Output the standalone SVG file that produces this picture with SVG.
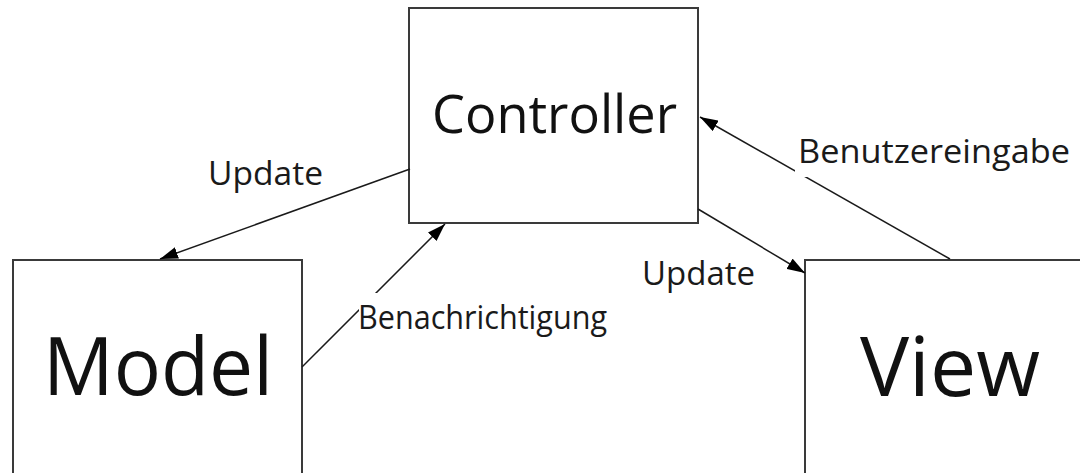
<svg xmlns="http://www.w3.org/2000/svg" width="1080" height="473" viewBox="0 0 1080 473">
  <style>
    .box { fill: #ffffff; stroke: #3a3a3a; stroke-width: 2; }
    .conn { stroke: #1a1a1a; stroke-width: 1.5; fill: none; marker-end: url(#arrow); }
    .big { font-family: "Open Sans", "Noto Sans", sans-serif; fill: #111111; }
    .lbl { font-family: "Open Sans", "Noto Sans", sans-serif; fill: #1a1a1a; font-size: 33px; }
  </style>
  <defs>
    <marker id="arrow" viewBox="0 0 18 12" markerWidth="18" markerHeight="12" refX="18" refY="6" orient="auto" markerUnits="userSpaceOnUse">
      <path d="M0,0 L18,6 L0,12 Z" fill="#000000"/>
    </marker>
  </defs>
  <rect width="1080" height="473" fill="#ffffff"/>

  <g id="controller">
    <rect class="box" x="409" y="8" width="289" height="215"/>
    <text class="big" x="432" y="133" font-size="53" textLength="245" lengthAdjust="spacingAndGlyphs">Controller</text>
  </g>
  <g id="model">
    <rect class="box" x="13" y="260" width="289" height="240"/>
    <text class="big" x="43" y="395" font-size="80" textLength="230" lengthAdjust="spacingAndGlyphs">Model</text>
  </g>
  <g id="view">
    <rect class="box" x="805" y="260" width="300" height="240"/>
    <text class="big" x="860" y="396" font-size="82" textLength="180" lengthAdjust="spacingAndGlyphs">View</text>
  </g>

  <g id="connectors">
    <line class="conn" x1="410" y1="169" x2="160" y2="259"/>
    <line class="conn" x1="302" y1="367" x2="445" y2="224"/>
    <line class="conn" x1="698" y1="209" x2="805" y2="273"/>
    <line class="conn" x1="950" y1="259" x2="700" y2="117"/>
  </g>

  <g id="labels">
    <text class="lbl" x="208" y="185" textLength="115" lengthAdjust="spacingAndGlyphs">Update</text>
    <text class="lbl" x="642" y="285" textLength="113" lengthAdjust="spacingAndGlyphs">Update</text>
    <rect x="359" y="293" width="250" height="45" fill="#ffffff"/>
    <text class="lbl" x="358" y="329" textLength="249" lengthAdjust="spacingAndGlyphs">Benachrichtigung</text>
    <rect x="795" y="130" width="278" height="47" fill="#ffffff"/>
    <text class="lbl" x="798" y="163" textLength="272" lengthAdjust="spacingAndGlyphs">Benutzereingabe</text>
  </g>
</svg>
